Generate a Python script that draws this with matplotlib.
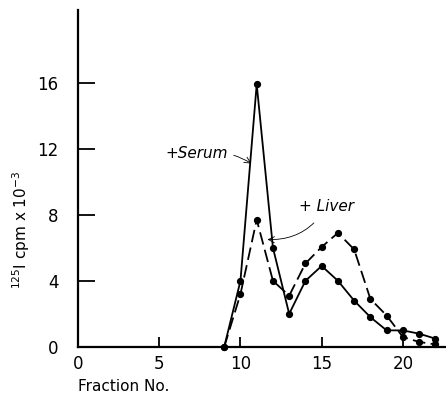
import numpy as np
import matplotlib
import matplotlib.pyplot as plt

matplotlib.use('agg')

# fraction numbers and counts (x 10^-3 cpm)
fractions = [9, 10, 11, 12, 13, 14, 15, 16, 17, 18, 19, 20, 21, 22]
serum = [0, 4.0, 15.9, 6.0, 2.0, 4.0, 4.9, 4.0, 2.8, 1.8, 1.0, 1.0, 0.8, 0.5]
liver = [0, 3.2, 7.7, 4.0, 3.1, 5.05, 6.05, 6.9, 5.9, 2.9, 1.9, 0.6, 0.3, 0.15]

xticks = [0, 5, 10, 15, 20]
yticks = [0, 4, 8, 12, 16]

fig = plt.figure(figsize=(4.46, 3.96), dpi=100)
ax = fig.add_axes([0.175, 0.124, 0.823, 0.851])

ax.plot(fractions, serum, color='black', lw=1.3, marker='o', ms=4.2, clip_on=False)
ax.plot(fractions, liver, color='black', lw=1.3, marker='o', ms=4.2,
        dashes=(7, 3), clip_on=False)

ax.set_xlim(0, 22.6)
ax.set_ylim(0, 20.4)
ax.set_xticks(xticks)
ax.set_yticks(yticks)
ax.tick_params(axis='both', direction='in', width=1.3, labelsize=12)
ax.tick_params(axis='y', length=12.5, pad=14)
ax.tick_params(axis='x', length=7, pad=6)
for s in ['top', 'right']:
    ax.spines[s].set_visible(False)
for s in ['left', 'bottom']:
    ax.spines[s].set_linewidth(1.6)

ax.set_xlabel('Fraction No.', fontsize=11)
ax.xaxis.set_label_coords(0.0, -0.095)
ax.xaxis.label.set_horizontalalignment('left')
ax.set_ylabel(r'$^{125}$I cpm x 10$^{-3}$', fontsize=11)
ax.yaxis.set_label_coords(-0.125, 0.347)

# curve labels with curved arrows
ax.annotate('+Serum', xy=(10.67, 11.1), xytext=(5.4, 11.7),
            fontsize=11, style='italic', va='center',
            arrowprops=dict(arrowstyle='->', color='black', lw=0.6,
                            connectionstyle='arc3,rad=-0.2',
                            shrinkA=2, shrinkB=0))
ax.annotate('+ Liver', xy=(11.66, 6.5), xytext=(13.6, 8.5),
            fontsize=11, style='italic', va='center',
            arrowprops=dict(arrowstyle='->', color='black', lw=0.6,
                            connectionstyle='arc3,rad=-0.3',
                            shrinkA=6, shrinkB=0))

plt.savefig('out.png', dpi=100)
